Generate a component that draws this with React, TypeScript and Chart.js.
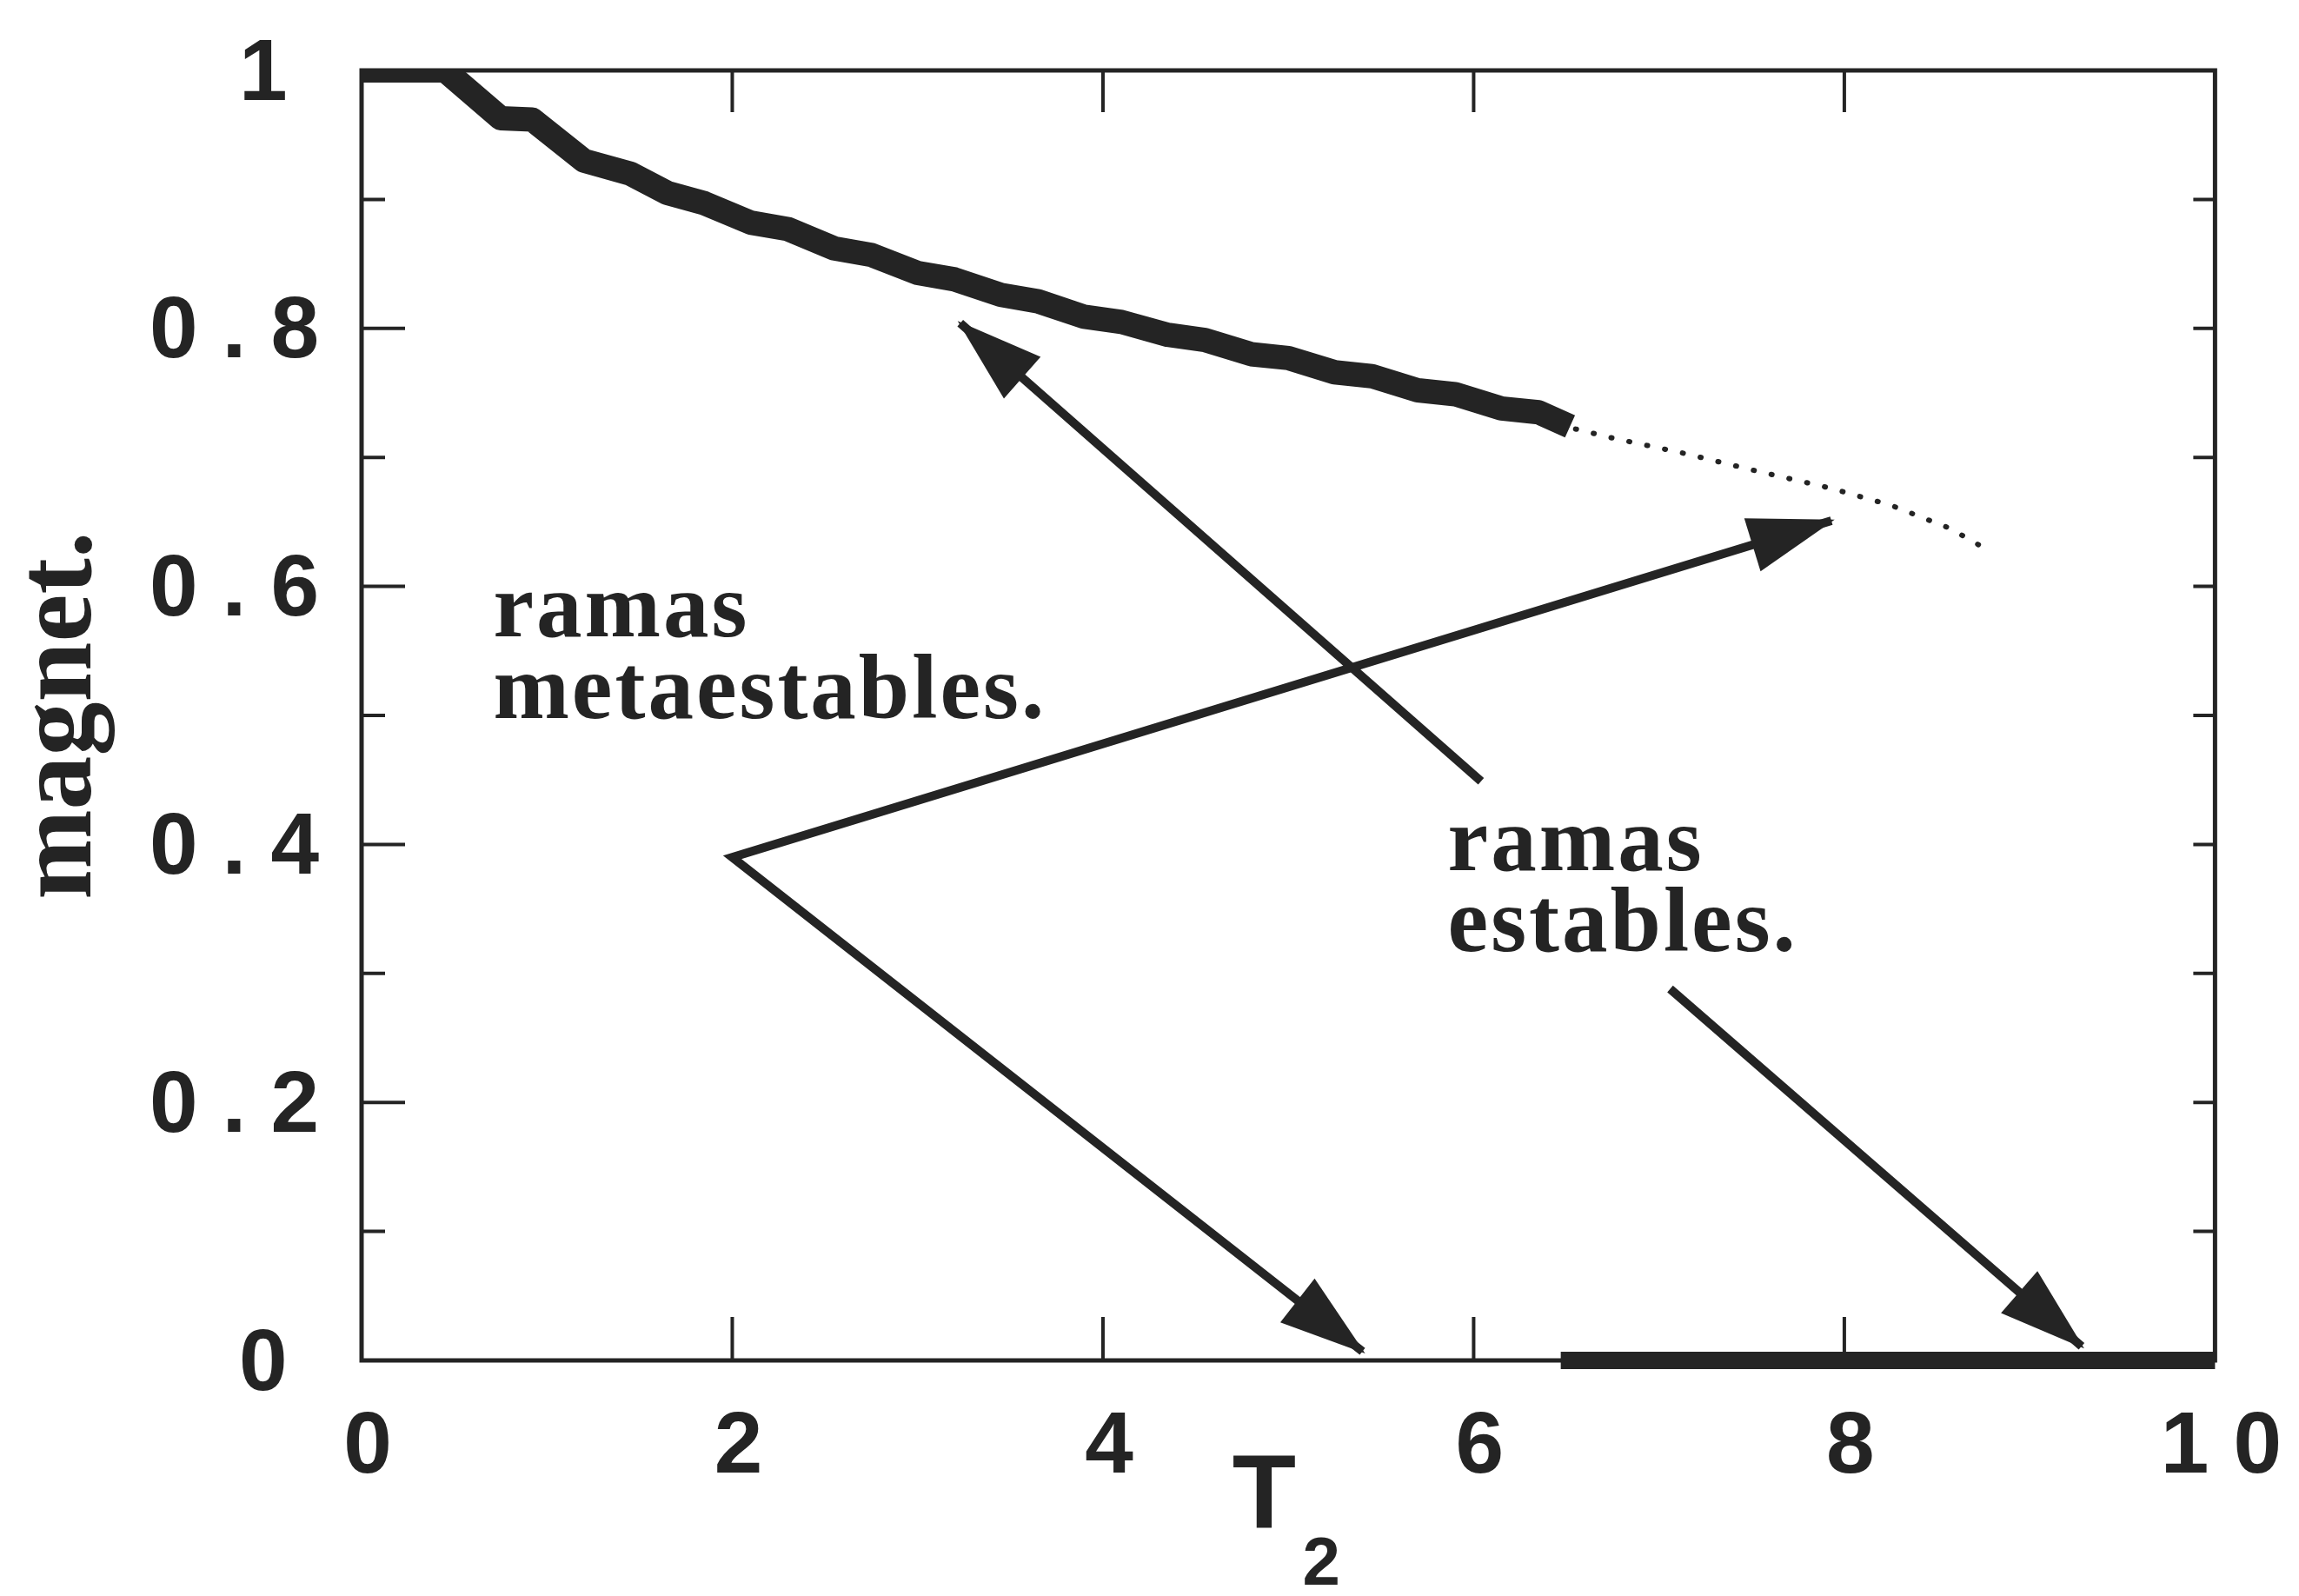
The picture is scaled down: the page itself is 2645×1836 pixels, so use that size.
import React, { useEffect, useRef } from "react";
import { Chart, registerables } from "chart.js";

Chart.register(...registerables);

// Metastable branch: thick wavy curve of magnetization vs T2
const metaT = [0, 0.45, 0.75, 0.92, 1.2, 1.45, 1.65, 1.85, 2.1, 2.3, 2.55, 2.75, 3.0, 3.2, 3.45, 3.65, 3.9, 4.1, 4.35, 4.55, 4.8, 5.0, 5.25, 5.45, 5.7, 5.9, 6.15, 6.35, 6.52];
const metaM = [1.0, 1.0, 0.963, 0.962, 0.93, 0.92, 0.905, 0.897, 0.882, 0.877, 0.862, 0.857, 0.843, 0.838, 0.826, 0.821, 0.809, 0.805, 0.795, 0.791, 0.78, 0.777, 0.766, 0.763, 0.752, 0.749, 0.738, 0.735, 0.724];

// Dotted continuation of the metastable branch
const dotT = [6.55, 6.75, 7.14, 7.54, 7.93, 8.25, 8.57, 8.74];
const dotM = [0.722, 0.715, 0.703, 0.689, 0.676, 0.663, 0.645, 0.631];

// Stable branch (zero magnetization)
const stableT = [6.47, 10];
const stableM = [0, 0];

// Arrows: polylines, arrowheads at the listed point indices
const arrowUpT = [6.04, 3.23];
const arrowUpM = [0.449, 0.804];
const arrowVeeT = [7.93, 2.0, 5.4];
const arrowVeeM = [0.651, 0.39, 0.007];
const arrowDownT = [7.06, 9.28];
const arrowDownM = [0.288, 0.011];

// Axis ticks
const xFrameTicks = [2, 4, 6, 8];
const yMajorTicks = [0, 0.2, 0.4, 0.6, 0.8, 1.0];
const yMinorTicks = [0.1, 0.3, 0.5, 0.7, 0.9];

// Annotation texts
const metaLabel = ["ramas", "metaestables."];
const metaLabelAt = [0.71, 0.561];
const stableLabel = ["ramas", "estables."];
const stableLabelAt = [5.86, 0.38];

const xTitle = "T";
const xTitleSub = "2";
const yTitle = "magnet.";

const INK = "#242424";

const pts = (t: number[], m: number[]) => t.map((v, i) => ({ x: v, y: m[i] }));

const arrows = [
  { t: arrowUpT, m: arrowUpM, heads: [1] },
  { t: arrowVeeT, m: arrowVeeM, heads: [0, 2] },
  { t: arrowDownT, m: arrowDownM, heads: [1] },
];

const decorPlugin = {
  id: "decor",
  beforeDraw(chart: any) {
    // wide letter spacing for the numeric tick labels
    chart.ctx.letterSpacing = "28px";
  },
  beforeDatasetsDraw(chart: any) {
    const ctx = chart.ctx;
    ctx.letterSpacing = "0px";
    const { left, right, top, bottom } = chart.chartArea;
    const xs = chart.scales.x;
    const ys = chart.scales.y;
    ctx.save();
    ctx.strokeStyle = INK;
    ctx.lineWidth = 5;
    ctx.strokeRect(left, top, right - left, bottom - top);
    ctx.beginPath();
    ctx.lineWidth = 4;
    for (const v of xFrameTicks) {
      const px = xs.getPixelForValue(v);
      ctx.moveTo(px, top);
      ctx.lineTo(px, top + 48);
      ctx.moveTo(px, bottom);
      ctx.lineTo(px, bottom - 50);
    }
    for (const v of yMajorTicks) {
      const py = ys.getPixelForValue(v);
      ctx.moveTo(left, py);
      ctx.lineTo(left + 50, py);
      ctx.moveTo(right, py);
      ctx.lineTo(right - 25, py);
    }
    for (const v of yMinorTicks) {
      const py = ys.getPixelForValue(v);
      ctx.moveTo(left, py);
      ctx.lineTo(left + 27, py);
      ctx.moveTo(right, py);
      ctx.lineTo(right - 25, py);
    }
    ctx.stroke();
    ctx.restore();
  },
  afterDatasetsDraw(chart: any) {
    const ctx = chart.ctx;
    const xs = chart.scales.x;
    const ys = chart.scales.y;
    ctx.save();
    ctx.fillStyle = INK;
    const L = 95;
    const W = 32;
    for (const a of arrows) {
      for (const i of a.heads) {
        const j = i === 0 ? 1 : i - 1;
        const px = xs.getPixelForValue(a.t[i]);
        const py = ys.getPixelForValue(a.m[i]);
        const qx = xs.getPixelForValue(a.t[j]);
        const qy = ys.getPixelForValue(a.m[j]);
        const d = Math.hypot(px - qx, py - qy);
        const ux = (px - qx) / d;
        const uy = (py - qy) / d;
        const bx = px - ux * L;
        const by = py - uy * L;
        ctx.beginPath();
        ctx.moveTo(px + ux * 4, py + uy * 4);
        ctx.lineTo(bx - uy * W, by + ux * W);
        ctx.lineTo(bx + uy * W, by - ux * W);
        ctx.closePath();
        ctx.fill();
      }
    }
    ctx.restore();
  },
  afterDraw(chart: any) {
    const ctx = chart.ctx;
    const xs = chart.scales.x;
    const ys = chart.scales.y;
    const { left, right, top, bottom } = chart.chartArea;
    ctx.save();
    ctx.fillStyle = INK;
    ctx.textAlign = "left";
    ctx.textBaseline = "alphabetic";
    ctx.font = 'bold 105px "Liberation Serif"';
    ctx.letterSpacing = "3px";
    const block = (lines: string[], at: number[], lh: number) => {
      const x = xs.getPixelForValue(at[0]);
      const y = ys.getPixelForValue(at[1]);
      lines.forEach((s, i) => ctx.fillText(s, x, y + i * lh));
    };
    block(metaLabel, metaLabelAt, 94);
    block(stableLabel, stableLabelAt, 93);

    // y-axis title, rotated
    ctx.letterSpacing = "0px";
    ctx.save();
    ctx.translate(104, (top + bottom) / 2);
    ctx.rotate(-Math.PI / 2);
    ctx.textAlign = "center";
    ctx.font = 'bold 124px "Liberation Serif"';
    ctx.fillText(yTitle, 0, 0);
    ctx.restore();

    // x-axis title with subscript
    const tx = left + (right - left) * 0.487;
    ctx.textAlign = "center";
    ctx.font = 'bold 120px "Liberation Sans"';
    ctx.fillText(xTitle, tx, bottom + 193);
    ctx.textAlign = "left";
    ctx.font = 'bold 78px "Liberation Sans"';
    ctx.fillText(xTitleSub, tx + 44, bottom + 258);
    ctx.restore();
  },
};

export default function App() {
  const ref = useRef<HTMLCanvasElement | null>(null);

  useEffect(() => {
    if (!ref.current) return;
    const lineBase = { pointRadius: 0, borderColor: INK, tension: 0, fill: false };
    const chart = new Chart(ref.current, {
      type: "line",
      data: {
        datasets: [
          {
            ...lineBase,
            label: "metaestable",
            data: pts(metaT, metaM),
            borderWidth: 28,
            borderJoinStyle: "round",
            borderCapStyle: "butt",
            clip: 0,
          },
          {
            ...lineBase,
            label: "continuación",
            data: pts(dotT, dotM),
            borderWidth: 6,
            borderDash: [1, 20],
            borderCapStyle: "round",
            clip: false,
          },
          {
            ...lineBase,
            label: "estable",
            data: pts(stableT, stableM),
            borderWidth: 20,
            borderCapStyle: "butt",
            clip: false,
          },
          ...arrows.map((a, k) => ({
            ...lineBase,
            label: "flecha " + (k + 1),
            data: pts(a.t, a.m),
            borderWidth: 10,
            borderJoinStyle: "miter",
            borderCapStyle: "butt",
            clip: false,
          })),
        ] as any,
      },
      options: {
        responsive: false,
        animation: false,
        devicePixelRatio: 1,
        events: [],
        layout: { autoPadding: false, padding: { top: 53, right: 95, bottom: 0, left: 0 } },
        plugins: { legend: { display: false }, tooltip: { enabled: false } },
        scales: {
          x: {
            type: "linear",
            min: 0,
            max: 10,
            grid: { display: false, drawTicks: false },
            border: { display: false },
            ticks: {
              stepSize: 2,
              autoSkip: false,
              maxRotation: 0,
              padding: 41,
              labelOffset: 21,
              color: INK,
              font: { family: "Liberation Sans", size: 100, weight: "bold" },
              callback: (v: any) => String(v),
            },
            afterFit: (s: any) => {
              s.height = 271;
            },
          },
          y: {
            type: "linear",
            min: 0,
            max: 1,
            grid: { display: false, drawTicks: false },
            border: { display: false },
            ticks: {
              stepSize: 0.2,
              autoSkip: false,
              padding: 21,
              labelOffset: 6,
              color: INK,
              font: { family: "Liberation Sans", size: 100, weight: "bold" },
              // whole-number labels sit a little further left
              callback: (v: any) => {
                const n = Number(Number(v).toFixed(1));
                return Number.isInteger(n) ? String(n) + "\u200A" : String(n);
              },
            },
            afterFit: (s: any) => {
              s.width = 416;
            },
          },
        },
      } as any,
      plugins: [decorPlugin],
    });
    return () => chart.destroy();
  }, []);

  return (
    <div style={{ position: "absolute", left: 0, top: 0, width: 2645, height: 1836, background: "#fff" }}>
      <canvas ref={ref} width={2645} height={1836} style={{ display: "block", width: 2645, height: 1836 }} />
    </div>
  );
}
